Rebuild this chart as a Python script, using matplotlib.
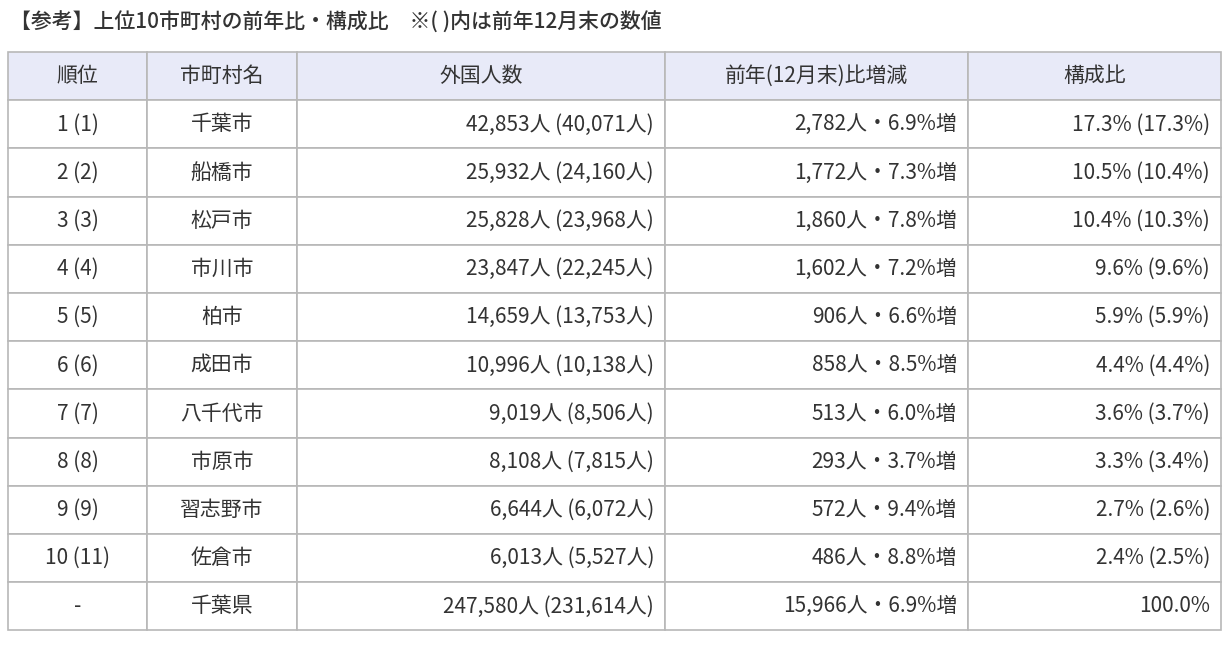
import matplotlib.pyplot as plt
from matplotlib.patches import Rectangle

plt.rcParams['font.family'] = ['Noto Sans CJK JP', 'DejaVu Sans']

title = "【参考】上位10市町村の前年比・構成比　※( )内は前年12月末の数値"
headers = ["順位", "市町村名", "外国人数", "前年(12月末)比増減", "構成比"]
ranks = ["1 (1)", "2 (2)", "3 (3)", "4 (4)", "5 (5)", "6 (6)", "7 (7)", "8 (8)", "9 (9)", "10 (11)", "-"]
cities = ["千葉市", "船橋市", "松戸市", "市川市", "柏市", "成田市", "八千代市", "市原市", "習志野市", "佐倉市", "千葉県"]
counts = ["42,853人 (40,071人)", "25,932人 (24,160人)", "25,828人 (23,968人)", "23,847人 (22,245人)",
          "14,659人 (13,753人)", "10,996人 (10,138人)", "9,019人 (8,506人)", "8,108人 (7,815人)",
          "6,644人 (6,072人)", "6,013人 (5,527人)", "247,580人 (231,614人)"]
changes = ["2,782人・6.9%増", "1,772人・7.3%増", "1,860人・7.8%増", "1,602人・7.2%増", "906人・6.6%増",
           "858人・8.5%増", "513人・6.0%増", "293人・3.7%増", "572人・9.4%増", "486人・8.8%増",
           "15,966人・6.9%増"]
shares = ["17.3% (17.3%)", "10.5% (10.4%)", "10.4% (10.3%)", "9.6% (9.6%)", "5.9% (5.9%)", "4.4% (4.4%)",
          "3.6% (3.7%)", "3.3% (3.4%)", "2.7% (2.6%)", "2.4% (2.5%)", "100.0%"]

W, H = 1225, 649
col_x = [8, 147, 297, 665, 968, 1221]
top, row_h = 52, 48.2
aligns = ["center", "center", "right", "right", "right"]
txt = "#333333"
border = "#b8b8b8"

fig = plt.figure(figsize=(W / 100, H / 100), dpi=100)
ax = fig.add_axes([0, 0, 1, 1])
ax.set_xlim(0, W)
ax.set_ylim(H, 0)
ax.axis("off")

ax.text(10, 23, title, fontsize=15, color=txt, va="center", ha="left", fontweight="medium")

rows = [headers] + [list(r) for r in zip(ranks, cities, counts, changes, shares)]
for i, row in enumerate(rows):
    y0 = top + i * row_h
    for j, val in enumerate(row):
        x0, x1 = col_x[j], col_x[j + 1]
        fc = "#e8eaf8" if i == 0 else "white"
        ax.add_patch(Rectangle((x0, y0), x1 - x0, row_h, facecolor=fc, edgecolor=border, lw=1.2))
        if i == 0 or aligns[j] == "center":
            ax.text((x0 + x1) / 2, y0 + row_h / 2, val, ha="center", va="center", fontsize=15, color=txt)
        else:
            ax.text(x1 - 11, y0 + row_h / 2, val, ha="right", va="center", fontsize=15, color=txt)

fig.savefig("out.png", dpi=100)
